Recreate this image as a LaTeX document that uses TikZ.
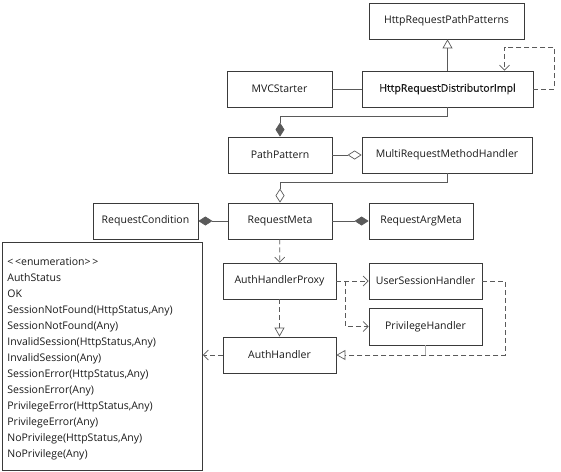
\documentclass[tikz,border=0pt]{standalone}
\usepackage{fontspec}
\setmainfont{Open Sans}
\newfontfamily\semib[FakeBold=0.7]{Open Sans}
\usetikzlibrary{arrows.meta,positioning}
\definecolor{boxc}{HTML}{3A3A3A}
\definecolor{linec}{HTML}{5A5A5A}
\begin{document}
\begin{tikzpicture}[x=1pt,y=-1pt,
  cls/.style={draw=boxc,line width=0.8pt,rectangle,minimum height=36pt,inner sep=0pt,font=\fontsize{10.5}{12}\selectfont,text=black!90},
  conn/.style={draw=linec,line width=0.7pt},
  dep/.style={conn,dash pattern=on 5pt off 3pt,-{Straight Barb[length=5pt,width=10pt]}},
  realz/.style={conn,dash pattern=on 5pt off 3pt,-{Triangle[open,length=9pt,width=10pt]}},
  inh/.style={conn,-{Triangle[open,length=9pt,width=10pt]}},
  comp/.style={conn,-{Diamond[length=14pt,width=9pt]}},
  agg/.style={conn,-{Diamond[open,length=14pt,width=9pt]}}]
\useasboundingbox (0,0) rectangle (561,471);
\node[cls,minimum width=155pt] (hrpp) at (446.5,21) {HttpRequestPathPatterns};
\node[cls,minimum width=105pt] (mvc) at (279.5,89) {MVCStarter};
\node[cls,minimum width=171pt] (hrdi) at (447.5,89) {\semib HttpRequestDistributorImpl};
\node[cls,minimum width=104pt] (pp) at (280,155) {PathPattern};
\node[cls,minimum width=170pt] (mrmh) at (447,155) {MultiRequestMethodHandler};
\node[cls,minimum width=105pt] (rc) at (145.5,221) {RequestCondition};
\node[cls,minimum width=104pt] (rm) at (280,221) {RequestMeta};
\node[cls,minimum width=104pt] (ram) at (421,221) {RequestArgMeta};
\node[cls,minimum width=113pt] (ahp) at (279.5,281) {AuthHandlerProxy};
\node[cls,minimum width=113pt] (ush) at (425.5,281) {UserSessionHandler};
\node[cls,minimum width=113pt,minimum height=37pt] (ph) at (425.5,326.5) {PrivilegeHandler};
\node[cls,minimum width=113pt] (ah) at (279.5,355) {AuthHandler};
\node[cls,minimum width=198pt,minimum height=228pt,align=left,anchor=north west,text width=190pt,inner xsep=5pt,
  font=\fontsize{10.5}{16}\selectfont] (enum) at (2,242) {\rule{0pt}{13pt}<\,<enumeration>\,>\\AuthStatus\\OK\\SessionNotFound(HttpStatus,Any)\\SessionNotFound(Any)\\InvalidSession(HttpStatus,Any)\\InvalidSession(Any)\\SessionError(HttpStatus,Any)\\SessionError(Any)\\PrivilegeError(HttpStatus,Any)\\PrivilegeError(Any)\\NoPrivilege(HttpStatus,Any)\\NoPrivilege(Any)\vphantom{p}\\[1pt]};
\draw[inh] (hrdi.north) -- (hrdi.north |- hrpp.south);
\draw[dep] (hrdi.east) -- ++(21,0) -- ++(0,-42) -| ([xshift=57pt]hrdi.north);
\draw[conn] (mvc) -- (hrdi);
\draw[comp] (hrdi.south) -- ++(0,9) -| (pp.north);
\draw[agg] (pp) -- (mrmh);
\draw[agg] (mrmh.south) -- ++(0,9) -| (rm.north);
\draw[comp] (rm) -- (rc);
\draw[comp] (rm) -- (ram);
\draw[dep] (rm) -- (ahp);
\draw[realz] (ahp) -- (ah);
\draw[dep] (ahp.east) -- (ush.west);
\draw[dep] ([xshift=9pt]ahp.east) |- (ph.west);
\draw[realz] (ush.east) -- ++(23,0) |- (ah.east);
\draw[conn,draw=linec!50] (ph.south) -- (ph.south |- ah.east);
\draw[dep] (ah.west) -- (ah.west -| enum.east);
\end{tikzpicture}
\end{document}
